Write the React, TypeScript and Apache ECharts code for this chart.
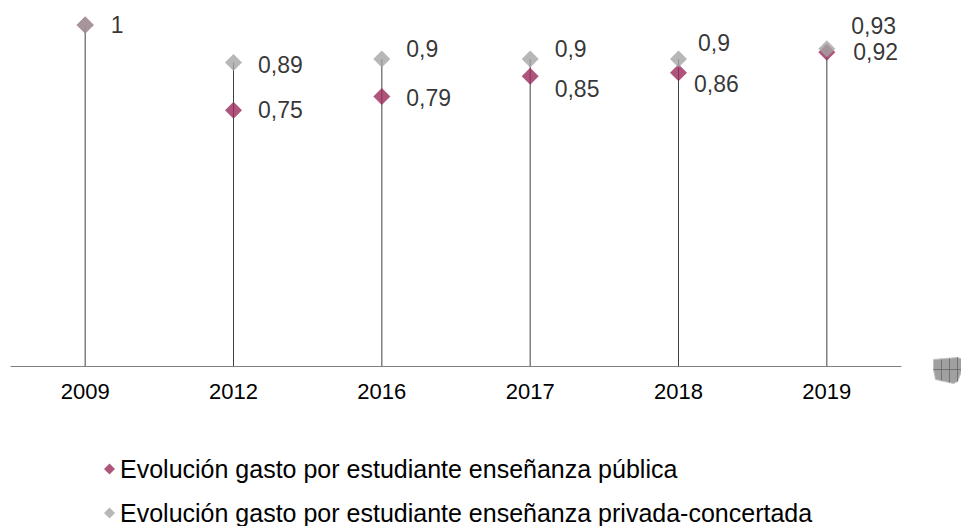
import React, { useEffect, useRef } from "react";
import * as echarts from "echarts";

const categories = ["2009", "2012", "2016", "2017", "2018", "2019"];
const publicValues = [1, 0.75, 0.79, 0.85, 0.86, 0.92];
const privateValues = [1, 0.89, 0.9, 0.9, 0.9, 0.93];
const seriesNames = [
  "Evolución gasto por estudiante enseñanza pública",
  "Evolución gasto por estudiante enseñanza privada-concertada",
];
// label layout tweaks (pixels), not data
const publicLabelOffsets = [[0, 0], [0, 0], [0, 1], [0, 13], [-9, 11], [2, 0]];
const privateLabelOffsets = [[1, 0], [0, 2], [0, -10], [0, -10], [-5, -16], [0, -23]];
const publicLabelShow = [false, true, true, true, true, true];

const fmt = (v: number) => String(v).replace(".", ",");
const FONT = "'Liberation Sans', Arial, sans-serif";

export default function App() {
  const ref = useRef<HTMLDivElement>(null);
  useEffect(() => {
    if (!ref.current) return;
    const chart = echarts.init(ref.current, undefined, { renderer: "svg" });
    const stems = categories.map((_, i) => Math.max(publicValues[i], privateValues[i]));
    const labelBase = {
      show: true,
      position: "right",
      distance: 16,
      color: "#000",
      fontSize: 23,
      fontFamily: FONT,
      formatter: (p: any) => fmt(p.value),
    };
    const legendBase = {
      orient: "horizontal",
      left: 104,
      padding: 0,
      itemWidth: 11,
      itemHeight: 11,
      icon: "diamond",
      textStyle: { color: "#000", fontSize: 25, fontFamily: FONT, lineHeight: 26 },
    };
    chart.setOption({
      animation: false,
      backgroundColor: "#fff",
      grid: { left: 11, right: 60, top: 25, bottom: 160 },
      xAxis: {
        type: "category",
        data: categories,
        boundaryGap: true,
        axisLine: { lineStyle: { color: "#808080", width: 1 } },
        axisTick: { show: false },
        axisLabel: { color: "#000", fontSize: 22, fontFamily: FONT, margin: 14 },
      },
      yAxis: {
        type: "value",
        min: 0,
        max: 1,
        show: false,
        splitLine: { show: false },
      },
      legend: [
        { ...legendBase, top: 456, data: [seriesNames[0]] },
        { ...legendBase, top: 500, data: [seriesNames[1]] },
      ],
      series: [
        {
          type: "bar",
          name: "stems",
          data: stems,
          barWidth: 1,
          itemStyle: { color: "#404040" },
          silent: true,
          z: 1,
        },
        {
          type: "scatter",
          name: seriesNames[0],
          symbol: "diamond",
          symbolSize: 17,
          itemStyle: { color: "#9B2A5A" },
          z: 3,
          data: publicValues.map((v, i) => ({
            value: v,
            label: { ...labelBase, show: publicLabelShow[i], offset: publicLabelOffsets[i] },
          })),
        },
        {
          type: "scatter",
          name: seriesNames[1],
          symbol: "diamond",
          symbolSize: 17,
          itemStyle: { color: "#A5A5A5" },
          z: 4,
          data: privateValues.map((v, i) => ({
            value: v,
            label: { ...labelBase, offset: privateLabelOffsets[i] },
          })),
        },
      ],
      graphic: [
        {
          type: "group",
          left: 931,
          top: 355,
          children: [
            {
              type: "polygon",
              shape: { points: [[0, 0], [24, -2], [30, 0], [28, 12], [24, 22], [20, 24], [2, 20], [0, 10]] },
              style: { fill: "#a0a0a0", stroke: "#c0c0c0", lineWidth: 1 },
            },
            { type: "line", shape: { x1: 8, y1: 0, x2: 8, y2: 21 }, style: { stroke: "#666", lineWidth: 0.8 } },
            { type: "line", shape: { x1: 16, y1: -1, x2: 16, y2: 23 }, style: { stroke: "#666", lineWidth: 0.8 } },
            { type: "line", shape: { x1: 24, y1: -2, x2: 24, y2: 22 }, style: { stroke: "#666", lineWidth: 0.8 } },
            { type: "line", shape: { x1: 0, y1: 10, x2: 28, y2: 10 }, style: { stroke: "#666", lineWidth: 0.8 } },
          ],
        },
      ],
    });
    return () => chart.dispose();
  }, []);
  return (
    <div
      ref={ref}
      style={{ position: "fixed", left: 0, top: 0, width: 961, height: 526 }}
    />
  );
}
